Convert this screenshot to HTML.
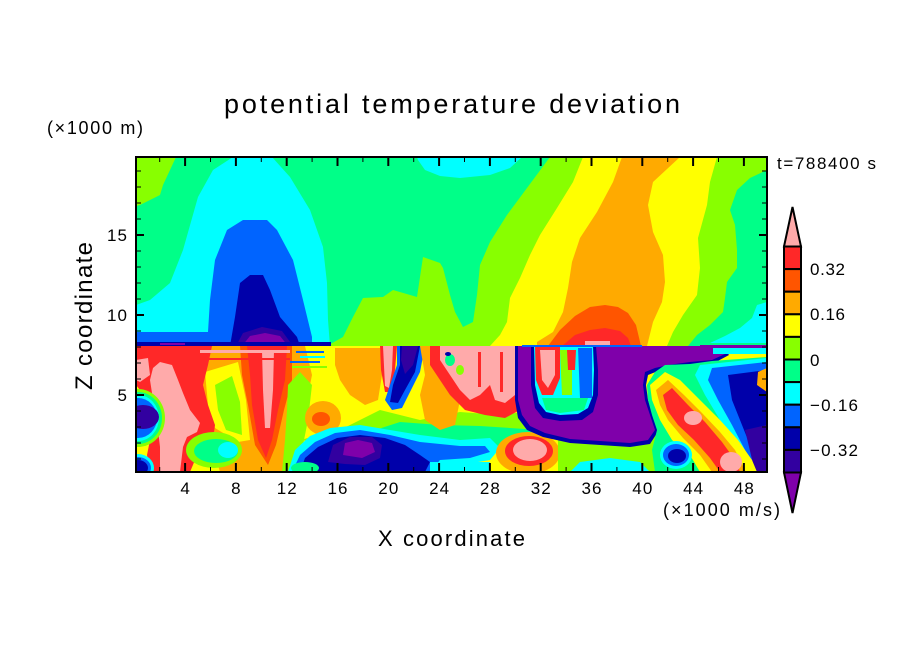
<!DOCTYPE html>
<html><head><meta charset="utf-8"><style>
html,body{margin:0;padding:0;background:#fff;}
svg{display:block;font-family:"Liberation Sans",sans-serif;}
</style></head><body>
<svg width="904" height="654" viewBox="0 0 904 654" xmlns="http://www.w3.org/2000/svg">
<defs><clipPath id="pc"><rect x="136" y="157" width="631" height="315"/></clipPath></defs>
<rect width="904" height="654" fill="#fff"/>
<g clip-path="url(#pc)">
<!-- upper region -->
<rect x="136" y="157" width="631" height="190" fill="#00ff88"/>
<polygon fill="#88ff00" points="327,346 343,337 353,317 363,298 383,297 393,290 417,297 423,257 440,263 443,268 450,295 455,312 463,327 473,322 477,295 480,265 490,242 507,215 527,188 550,157 767,157 767,346"/>
<polygon fill="#ffff00" points="583,157 573,182 557,208 540,235 530,255 520,278 510,298 507,322 500,335 490,346 667,346 673,332 683,315 697,295 700,268 698,238 707,205 710,182 717,157"/>
<polygon fill="#ffaa00" points="622,157 613,182 597,212 580,238 572,262 568,288 563,312 553,332 537,342 537,346 647,346 653,322 662,302 665,282 663,255 653,232 648,205 653,182 680,157"/>
<polygon fill="#00ff88" points="767,170 750,178 737,190 730,210 735,225 737,250 737,268 727,282 725,298 723,312 710,325 697,335 688,346 767,346"/>
<polygon fill="#00ffff" points="767,302 757,305 752,318 740,328 725,336 710,343 767,343"/>
<polygon fill="#ff5500" points="548,346 560,330 575,316 590,307 605,305 618,307 628,313 636,325 641,346"/>
<polygon fill="#ff2828" points="562,346 575,335 590,330 605,328 620,331 628,338 631,346"/>
<rect x="585" y="341" width="25" height="4" fill="#ffaaaa"/>
<polygon fill="#00ffff" points="417,157 522,157 510,168 490,175 460,178 440,176 425,170 418,160"/>
<polygon fill="#88ff00" points="136,157 176,157 170,170 163,185 160,195 150,200 140,205 136,206"/>
<polygon fill="#00ffff" points="136,305 150,300 170,283 183,250 198,197 213,170 233,157 272,157 290,177 310,210 323,247 327,283 328,320 330,346 136,346"/>
<polygon fill="#0064ff" points="208,332 210,300 215,260 227,230 243,220 267,220 277,230 293,260 303,300 312,337 312,346 136,346 136,332"/>
<rect x="136" y="326" width="70" height="6" fill="#00ffff"/>
<polygon fill="#0000aa" points="230,346 235,317 240,283 250,275 263,275 270,290 280,317 297,337 300,346"/>
<polygon fill="#3200a0" points="236,346 243,333 262,327 282,331 293,346"/>
<polygon fill="#7f00aa" points="242,346 250,336 265,333 280,336 288,346"/>
<rect x="136" y="342" width="195" height="4" fill="#0000aa"/>
<rect x="160" y="343" width="25" height="2" fill="#7f00aa"/>

<!-- lower region -->
<rect x="136" y="346" width="631" height="126" fill="#ffff00"/>
<polygon fill="#ffaa00" points="185,346 305,346 312,375 305,410 298,440 290,472 220,472 212,445 205,410 195,380"/>
<polygon fill="#ffff00" points="205,372 238,362 246,400 250,440 238,442 215,428 208,405"/>
<polygon fill="#88ff00" points="215,385 232,376 240,402 242,435 226,430 218,410"/>
<polygon fill="#ff2828" points="136,346 212,346 208,365 203,385 208,405 215,425 213,440 203,450 195,460 190,472 150,472 147,455 150,440 152,425 148,405 140,390 136,385"/>
<polygon fill="#ffaaaa" points="160,362 172,365 178,380 183,393 190,410 200,423 197,432 187,437 183,447 180,472 160,472 160,447 158,430 155,410 152,393 150,380 153,368"/>
<polygon fill="#ffaaaa" points="136,360 148,358 150,375 140,382 136,380"/>
<ellipse cx="138" cy="418" rx="27" ry="29" fill="#88ff00"/>
<ellipse cx="138" cy="418" rx="24" ry="26" fill="#00ff88"/>
<ellipse cx="138" cy="418" rx="21" ry="23" fill="#00ffff"/>
<ellipse cx="138" cy="418" rx="19" ry="20" fill="#0064ff"/>
<ellipse cx="143" cy="417" rx="16" ry="12" fill="#3200a0"/>
<ellipse cx="138" cy="468" rx="16" ry="14" fill="#00ffff"/>
<ellipse cx="138" cy="468" rx="13" ry="11" fill="#0064ff"/>
<ellipse cx="138" cy="468" rx="10" ry="8" fill="#0000aa"/>
<ellipse cx="214" cy="450" rx="28" ry="18" fill="#88ff00"/>
<ellipse cx="216" cy="451" rx="22" ry="12" fill="#00ff88"/>
<ellipse cx="228" cy="450" rx="10" ry="8" fill="#00ffff"/>
<polygon fill="#ff5500" points="240,346 292,346 292,380 284,410 276,445 268,465 255,445 248,405 242,375"/>
<polygon fill="#ff2828" points="247,346 287,346 285,380 278,410 272,440 266,458 258,440 252,405 250,375"/>
<polygon fill="#ffaaaa" points="262,350 274,350 273,390 270,428 265,428 263,390"/>
<rect x="200" y="350" width="90" height="3" fill="#ffaaaa"/>
<rect x="200" y="358" width="90" height="2" fill="#ff2828"/>
<polygon fill="#88ff00" points="288,385 300,372 312,385 308,420 302,450 295,472 282,472 285,440 287,410"/>
<rect x="296" y="351" width="28" height="2" fill="#0064ff"/>
<rect x="300" y="356" width="25" height="2" fill="#00ffff"/>
<rect x="290" y="361" width="30" height="2" fill="#0064ff"/>
<rect x="292" y="366" width="35" height="2" fill="#88ff00"/>
<polygon fill="#ffaa00" points="335,348 380,348 382,375 378,400 365,405 350,395 340,380 335,365"/>
<ellipse cx="323" cy="418" rx="18" ry="17" fill="#ffaa00"/>
<ellipse cx="321" cy="419" rx="9" ry="7" fill="#ff5500"/>
<polygon fill="#88ff00" points="300,440 340,430 380,410 420,420 460,412 500,415 540,410 540,450 460,455 380,452 340,445"/>
<polygon fill="#00ff88" points="360,435 400,422 440,425 480,426 540,430 540,450 480,452 420,450 380,445"/>
<polygon fill="#00ffff" points="288,472 295,450 310,436 330,428 360,425 390,430 420,435 460,440 490,438 500,448 490,460 460,465 460,472"/>
<polygon fill="#0064ff" points="292,472 300,455 315,442 335,433 360,430 390,435 420,442 460,446 485,446 490,452 470,458 440,460 430,472"/>
<polygon fill="#0000aa" points="300,472 305,458 318,447 337,438 360,435 385,438 405,445 420,455 430,462 425,472"/>
<polygon fill="#3200a0" points="328,462 333,445 350,437 372,437 382,445 380,458 365,465 345,464"/>
<polygon fill="#7f00aa" points="343,455 345,443 358,440 372,443 375,452 362,458"/>
<ellipse cx="305" cy="468" rx="14" ry="6" fill="#00ff88"/>
<rect x="430" y="462" width="60" height="10" fill="#00ffff"/>
<polygon fill="#ff2828" points="380,346 397,346 395,370 392,392 385,392 381,370"/>
<polygon fill="#ffaaaa" points="383,346 393,346 392,370 389,388 385,386"/>
<polygon fill="#0064ff" points="397,346 425,346 420,372 410,392 402,408 392,410 385,400 390,385 397,365"/>
<polygon fill="#0000aa" points="400,346 420,346 415,372 405,390 398,403 390,402 393,385 400,365"/>
<polygon fill="#3200a0" points="402,346 418,346 413,365 405,374 401,360"/>
<polygon fill="#ffaa00" points="420,346 457,346 460,400 455,425 440,430 425,420 420,395 425,375"/>
<polygon fill="#ff2828" points="430,346 520,346 520,410 505,418 485,415 465,410 450,395 440,380 430,365"/>
<polygon fill="#ffaaaa" points="440,346 515,346 515,395 505,403 495,400 490,385 480,395 470,400 460,390 450,375 440,360"/>
<ellipse cx="450" cy="360" rx="5" ry="6" fill="#00ff88"/>
<ellipse cx="460" cy="370" rx="4" ry="5" fill="#88ff00"/>
<ellipse cx="448" cy="354" rx="3" ry="2" fill="#0000aa"/>
<rect x="478" y="352" width="3" height="35" fill="#ff2828"/>
<rect x="500" y="352" width="3" height="40" fill="#ff2828"/>
<ellipse cx="528" cy="453" rx="32" ry="21" fill="#ffaa00"/>
<ellipse cx="529" cy="451" rx="24" ry="15" fill="#ff2828"/>
<ellipse cx="530" cy="450" rx="17" ry="11" fill="#ffaaaa"/>
<polygon fill="#88ff00" points="558,440 660,435 660,472 558,472"/>
<polygon fill="#00ffff" points="570,472 580,462 610,458 640,462 650,472"/>
<polygon fill="#0000aa" points="515,346 722,346 729,355 714,363 692,365 670,368 658,371 648,375 646,385 648,400 653,415 659,430 650,444 630,447 600,445 570,443 543,437 527,430 518,418 515,400"/>
<polygon fill="#7f00aa" points="518,346 718,346 725,354 712,360 690,362 668,365 655,368 645,372 643,385 645,400 650,415 655,430 648,440 630,443 600,441 570,439 545,433 530,426 522,415 518,400"/>
<polygon fill="#0000aa" points="531,346 596,346 598,370 598,395 593,412 582,420 560,421 543,418 535,408 531,385"/>
<polygon fill="#00ffff" points="534,346 593,346 594,370 593,395 588,408 578,414 560,415 546,412 539,403 535,385"/>
<polygon fill="#ff2828" points="535,346 560,346 560,378 553,395 542,395 536,380"/>
<polygon fill="#ffaaaa" points="540,350 555,350 555,375 548,388 542,380"/>
<polygon fill="#88ff00" points="560,350 572,350 572,395 562,395"/>
<polygon fill="#ff2828" points="567,350 576,350 575,370 568,370"/>
<polygon fill="#0064ff" points="578,348 592,348 592,398 580,398"/>
<polygon fill="#00ff88" points="542,398 588,398 584,410 560,413 546,410"/>
<!-- right turbulent -->
<polygon fill="#00ff88" points="655,372 665,365 690,364 712,361 767,357 767,472 655,472 652,450 657,430 652,415 648,400 647,385"/>
<polygon fill="#00ffff" points="700,365 767,358 767,472 745,472 735,445 720,420 705,395 695,375"/>
<polygon fill="#0064ff" points="712,368 767,362 767,472 752,472 745,450 732,425 718,400 708,380"/>
<polygon fill="#0000aa" points="728,375 767,370 767,472 758,472 752,450 742,425 732,400"/>
<polygon fill="#3200a0" points="745,430 767,425 767,472 755,472"/>
<polygon fill="#ffaa00" points="767,368 758,372 757,385 767,392"/>
<polygon fill="#ffff00" points="650,385 665,372 680,380 700,400 720,420 738,440 752,460 757,472 700,472 690,455 672,440 660,420 652,400"/>
<polygon fill="#ffaa00" points="656,390 668,380 684,395 702,413 720,432 735,450 746,472 712,472 700,455 683,438 668,420 660,405"/>
<polygon fill="#ff2828" points="663,395 672,388 688,405 705,422 722,442 735,460 740,472 720,472 710,458 694,440 678,425 667,410"/>
<ellipse cx="693" cy="418" rx="9" ry="7" fill="#ffaaaa"/>
<ellipse cx="731" cy="462" rx="11" ry="10" fill="#ffaaaa"/>
<ellipse cx="676" cy="455" rx="16" ry="14" fill="#00ffff"/>
<ellipse cx="676" cy="455" rx="13" ry="11" fill="#0064ff"/>
<ellipse cx="677" cy="456" rx="9" ry="7" fill="#0000aa"/>
<rect x="713" y="346" width="54" height="8" fill="#00ffff"/>
<rect x="700" y="345" width="67" height="3" fill="#7f00aa"/>
<rect x="522" y="345" width="120" height="2" fill="#0064ff"/>
</g>
<!-- frame -->
<rect x="136" y="157" width="631" height="315" fill="none" stroke="#000" stroke-width="2"/>
<g stroke="#000">
<g stroke-width="1">
<path d="M159.7 472V467M210.5 472V467M261.3 472V467M312.1 472V467M362.9 472V467M413.7 472V467M464.5 472V467M515.3 472V467M566.1 472V467M616.9 472V467M667.7 472V467M718.5 472V467"/>
<path d="M159.7 157V162M210.5 157V162M261.3 157V162M312.1 157V162M362.9 157V162M413.7 157V162M464.5 157V162M515.3 157V162M566.1 157V162M616.9 157V162M667.7 157V162M718.5 157V162"/>
<path d="M136 459H141M136 443H141M136 427H141M136 411H141M136 379H141M136 363H141M136 347H141M136 331H141M136 299H141M136 283H141M136 267H141M136 251H141M136 219H141M136 203H141M136 187H141M136 171H141"/>
<path d="M767 459H762M767 443H762M767 427H762M767 411H762M767 379H762M767 363H762M767 347H762M767 331H762M767 299H762M767 283H762M767 267H762M767 251H762M767 219H762M767 203H762M767 187H762M767 171H762"/>
</g>
<g stroke-width="2">
<path d="M185.1 472V463M235.9 472V463M286.7 472V463M337.5 472V463M388.3 472V463M439.1 472V463M489.9 472V463M540.7 472V463M591.5 472V463M642.3 472V463M693.1 472V463M743.9 472V463"/>
<path d="M185.1 157V166M235.9 157V166M286.7 157V166M337.5 157V166M388.3 157V166M439.1 157V166M489.9 157V166M540.7 157V166M591.5 157V166M642.3 157V166M693.1 157V166M743.9 157V166"/>
<path d="M136 395H144M136 315H144M136 235H144M767 395H759M767 315H759M767 235H759"/>
</g>
</g>
<!-- tick labels -->
<g font-size="17" fill="#000" text-anchor="middle">
<text x="185.1" y="494">4</text>
<text x="235.9" y="494">8</text>
<text x="286.7" y="494" textLength="20">12</text>
<text x="337.5" y="494" textLength="20">16</text>
<text x="388.3" y="494" textLength="20">20</text>
<text x="439.1" y="494" textLength="20">24</text>
<text x="489.9" y="494" textLength="20">28</text>
<text x="540.7" y="494" textLength="20">32</text>
<text x="591.5" y="494" textLength="20">36</text>
<text x="642.3" y="494" textLength="20">40</text>
<text x="693.1" y="494" textLength="20">44</text>
<text x="743.9" y="494" textLength="20">48</text>
</g>
<g font-size="17" fill="#000" text-anchor="end">
<text x="127" y="401">5</text>
<text x="127" y="321" textLength="20">10</text>
<text x="127" y="241" textLength="20">15</text>
</g>
<!-- titles -->
<text x="224" y="113" font-size="27" textLength="456" lengthAdjust="spacing" fill="#000">potential temperature deviation</text>
<text x="47" y="134" font-size="18" textLength="96" lengthAdjust="spacing" fill="#000">(×1000 m)</text>
<text x="378" y="546" font-size="22" textLength="147" lengthAdjust="spacing" fill="#000">X coordinate</text>
<text transform="translate(92,390) rotate(-90)" x="0" y="0" font-size="24" textLength="148" lengthAdjust="spacing" fill="#000">Z coordinate</text>
<text x="663" y="516" font-size="18" textLength="117" lengthAdjust="spacing" fill="#000">(×1000 m/s)</text>
<text x="777" y="169" font-size="17" textLength="99" lengthAdjust="spacing" fill="#000">t=788400 s</text>
<!-- colorbar -->
<g stroke="#000" stroke-width="2">
<polygon points="784,246.5 801,246.5 792.5,207" fill="#ffaaaa"/>
<rect x="784" y="246.5" width="17" height="22.6" fill="#ff2828"/>
<rect x="784" y="269.1" width="17" height="22.6" fill="#ff5500"/>
<rect x="784" y="291.7" width="17" height="22.6" fill="#ffaa00"/>
<rect x="784" y="314.3" width="17" height="22.6" fill="#ffff00"/>
<rect x="784" y="336.9" width="17" height="22.6" fill="#88ff00"/>
<rect x="784" y="359.5" width="17" height="22.6" fill="#00ff88"/>
<rect x="784" y="382.1" width="17" height="22.6" fill="#00ffff"/>
<rect x="784" y="404.7" width="17" height="22.6" fill="#0064ff"/>
<rect x="784" y="427.3" width="17" height="22.6" fill="#0000aa"/>
<rect x="784" y="449.9" width="17" height="22.6" fill="#3200a0"/>
<polygon points="784,472.5 801,472.5 792.5,513" fill="#7f00aa"/>
</g>
<g font-size="17" fill="#000">
<text x="810" y="275" textLength="35">0.32</text>
<text x="810" y="320" textLength="35">0.16</text>
<text x="810" y="366">0</text>
<text x="810" y="411" textLength="48">−0.16</text>
<text x="810" y="456" textLength="48">−0.32</text>
</g>
</svg>
</body></html>
